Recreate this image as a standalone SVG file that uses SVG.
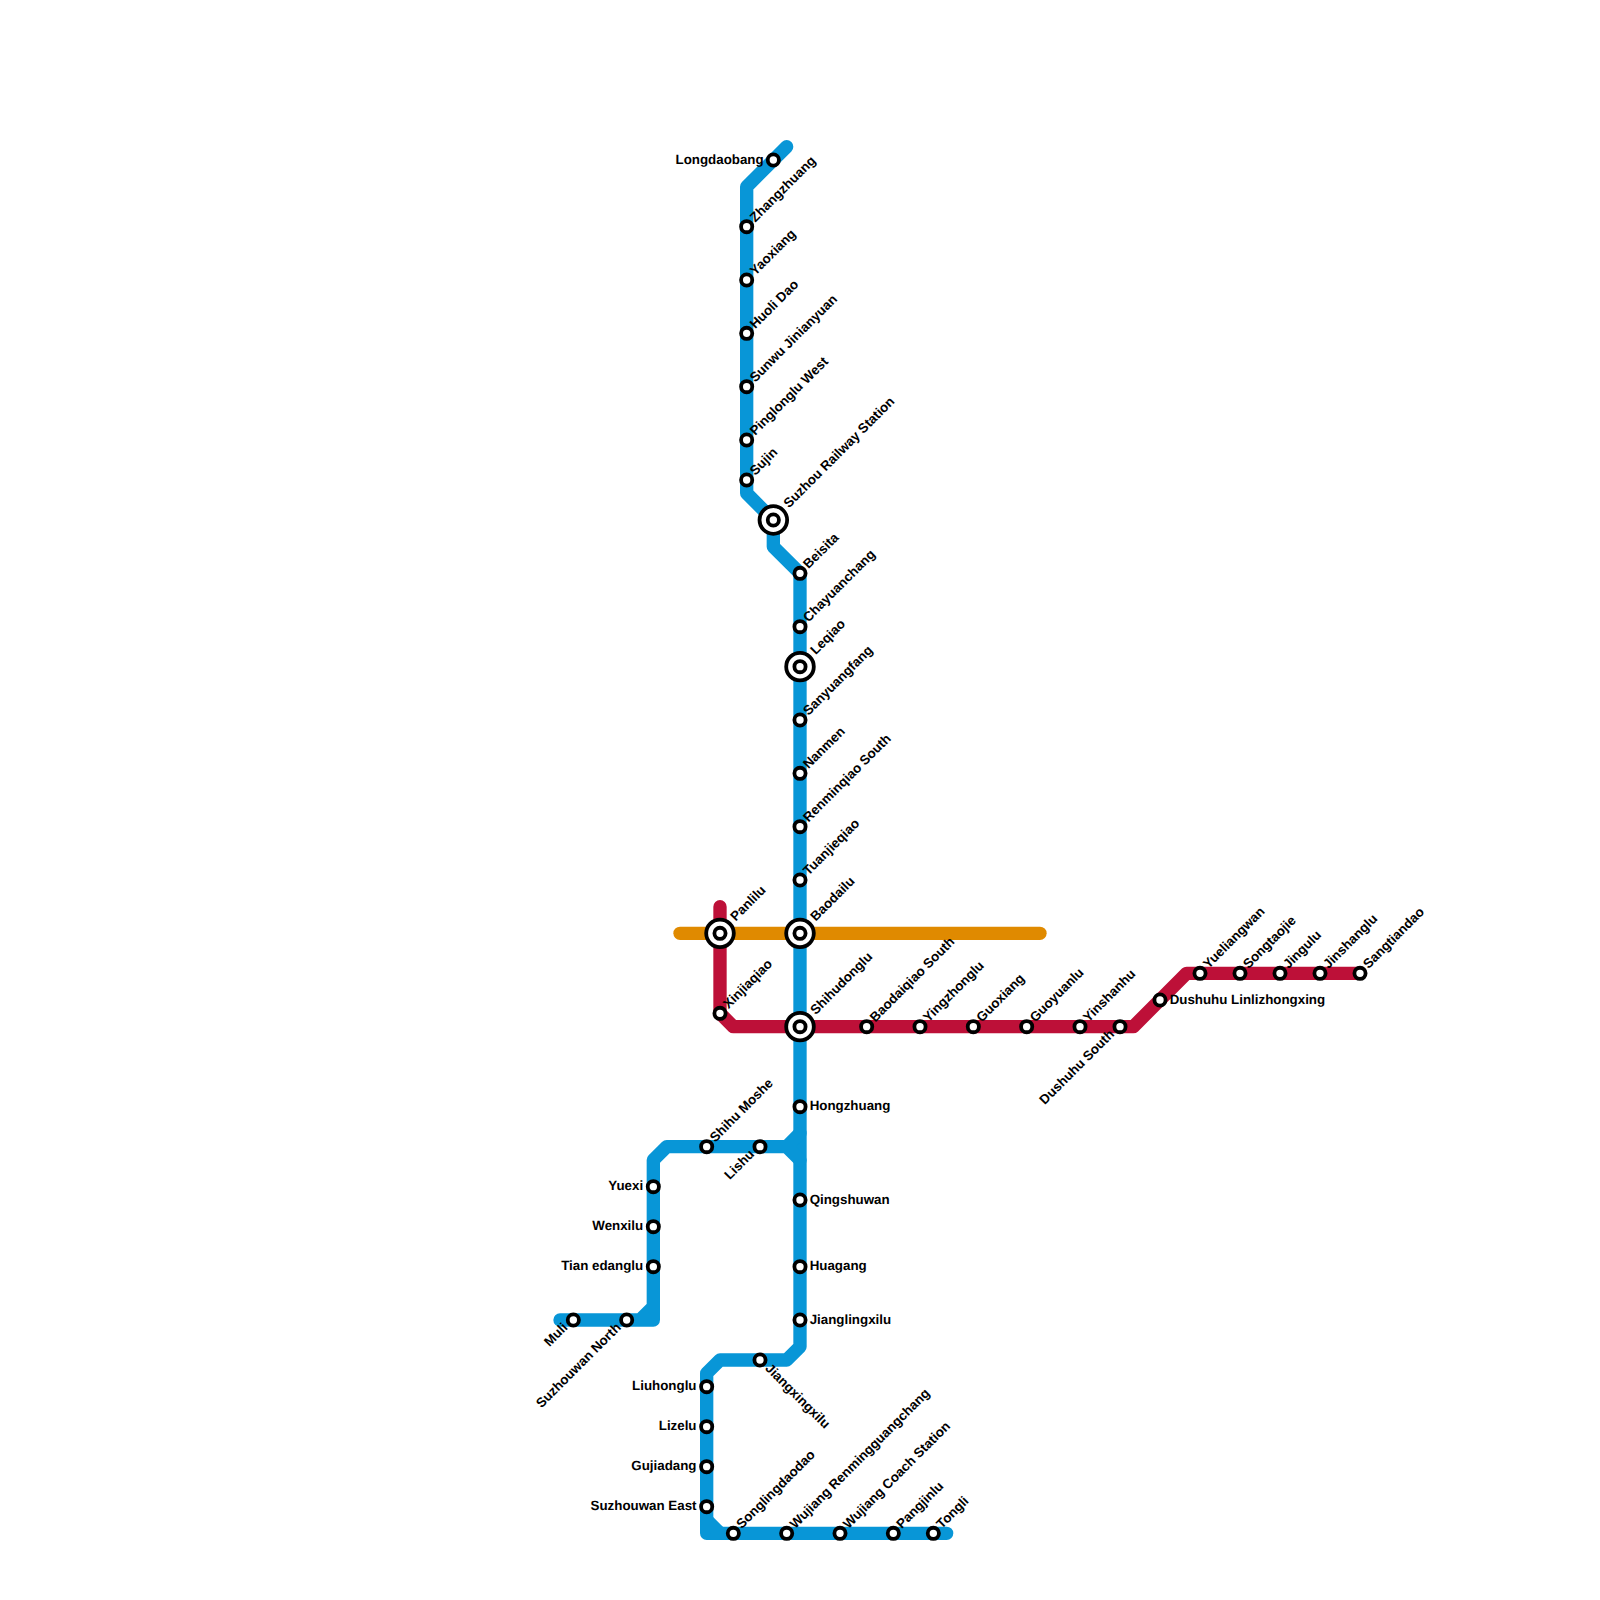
<svg xmlns="http://www.w3.org/2000/svg" width="1600" height="1600" viewBox="0 0 1600 1600">
<style>
.l{fill:none;stroke-width:13.33;stroke-linecap:round;stroke-linejoin:round}
.b{stroke:#0896d7}.r{stroke:#bd1038}.o{stroke:#e08a00}
.s{fill:#fff;stroke:#000;stroke-width:3.8}
text{font-family:"Liberation Sans",Arial,sans-serif;font-weight:700;font-size:13.33px;fill:#000;text-rendering:geometricPrecision}
.e{text-anchor:end}
</style>
<defs>
<g id="st"><circle class="s" r="5.6"/></g>
<g id="ix"><circle class="s" r="13.8"/><circle class="s" r="5.6"/></g>
</defs>
<rect width="1600" height="1600" fill="#fff"/>
<g id="connectors">
<path class="l o" d="M680 933.33H1040"/>
<path class="l r" d="M720 906.67V1013.33L733.33 1026.67H1133.33L1186.67 973.33H1360"/>
<path class="l b" d="M786.67 146.67L746.67 186.67V493.33L773.33 520V546.67L800 573.33V1346.67L786.67 1360H720L706.67 1373.33V1533.33H946.67"/>
<path class="l b" d="M706.67 1520L720 1533.33"/>
<path class="l b" d="M560 1320H653.33V1160L666.67 1146.67H786.67L800 1133.33M786.67 1146.67L800 1160M640 1320L653.33 1306.67"/>
</g>
<g id="n-longdaobang"><use href="#st" x="773.33" y="160"/><text class="e" x="763.67" y="163.5">Longdaobang</text></g>
<g id="n-zhangzhuang"><use href="#st" x="746.67" y="226.67"/><text transform="translate(755.17 222.67) rotate(-45)">Zhangzhuang</text></g>
<g id="n-yaoxiang"><use href="#st" x="746.67" y="280"/><text transform="translate(755.17 276) rotate(-45)">Yaoxiang</text></g>
<g id="n-huolidao"><use href="#st" x="746.67" y="333.33"/><text transform="translate(755.17 329.33) rotate(-45)">Huoli Dao</text></g>
<g id="n-sunwu"><use href="#st" x="746.67" y="386.67"/><text transform="translate(755.17 382.67) rotate(-45)">Sunwu Jinianyuan</text></g>
<g id="n-pinglonglu"><use href="#st" x="746.67" y="440"/><text transform="translate(755.17 436) rotate(-45)">Pinglonglu West</text></g>
<g id="n-sujin"><use href="#st" x="746.67" y="480"/><text transform="translate(755.17 476) rotate(-45)">Sujin</text></g>
<g id="n-suzhourailway"><use href="#ix" x="773.33" y="520"/><text transform="translate(789 508.5) rotate(-45)">Suzhou Railway Station</text></g>
<g id="n-beisita"><use href="#st" x="800" y="573.33"/><text transform="translate(808.5 569.33) rotate(-45)">Beisita</text></g>
<g id="n-chayuanchang"><use href="#st" x="800" y="626.67"/><text transform="translate(808.5 622.67) rotate(-45)">Chayuanchang</text></g>
<g id="n-leqiao"><use href="#ix" x="800" y="666.67"/><text transform="translate(815.67 655.17) rotate(-45)">Leqiao</text></g>
<g id="n-sanyuangfang"><use href="#st" x="800" y="720"/><text transform="translate(808.5 716) rotate(-45)">Sanyuangfang</text></g>
<g id="n-nanmen"><use href="#st" x="800" y="773.33"/><text transform="translate(808.5 769.33) rotate(-45)">Nanmen</text></g>
<g id="n-renminqiao"><use href="#st" x="800" y="826.67"/><text transform="translate(808.5 822.67) rotate(-45)">Renminqiao South</text></g>
<g id="n-tuanjieqiao"><use href="#st" x="800" y="880"/><text transform="translate(808.5 876) rotate(-45)">Tuanjieqiao</text></g>
<g id="n-baodailu"><use href="#ix" x="800" y="933.33"/><text transform="translate(815.67 921.83) rotate(-45)">Baodailu</text></g>
<g id="n-panlilu"><use href="#ix" x="720" y="933.33"/><text transform="translate(735.67 921.83) rotate(-45)">Panlilu</text></g>
<g id="n-xinjiaqiao"><use href="#st" x="720" y="1013.33"/><text transform="translate(728.5 1009.33) rotate(-45)">Xinjiaqiao</text></g>
<g id="n-shihudonglu"><use href="#ix" x="800" y="1026.67"/><text transform="translate(815.67 1015.17) rotate(-45)">Shihudonglu</text></g>
<g id="n-baodaiqiao"><use href="#st" x="866.67" y="1026.67"/><text transform="translate(875.17 1022.67) rotate(-45)">Baodaiqiao South</text></g>
<g id="n-yingzhonglu"><use href="#st" x="920" y="1026.67"/><text transform="translate(928.5 1022.67) rotate(-45)">Yingzhonglu</text></g>
<g id="n-guoxiang"><use href="#st" x="973.33" y="1026.67"/><text transform="translate(981.83 1022.67) rotate(-45)">Guoxiang</text></g>
<g id="n-guoyuanlu"><use href="#st" x="1026.67" y="1026.67"/><text transform="translate(1035.17 1022.67) rotate(-45)">Guoyuanlu</text></g>
<g id="n-yinshanhu"><use href="#st" x="1080" y="1026.67"/><text transform="translate(1088.5 1022.67) rotate(-45)">Yinshanhu</text></g>
<g id="n-dushuhusouth"><use href="#st" x="1120" y="1026.67"/><text class="e" transform="translate(1115 1035) rotate(-45)">Dushuhu South</text></g>
<g id="n-linli"><use href="#st" x="1160" y="1000"/><text x="1169.67" y="1003.5">Dushuhu Linlizhongxing</text></g>
<g id="n-yueliangwan"><use href="#st" x="1200" y="973.33"/><text transform="translate(1208.5 969.33) rotate(-45)">Yueliangwan</text></g>
<g id="n-songtaojie"><use href="#st" x="1240" y="973.33"/><text transform="translate(1248.5 969.33) rotate(-45)">Songtaojie</text></g>
<g id="n-jingulu"><use href="#st" x="1280" y="973.33"/><text transform="translate(1288.5 969.33) rotate(-45)">Jingulu</text></g>
<g id="n-jinshanglu"><use href="#st" x="1320" y="973.33"/><text transform="translate(1328.5 969.33) rotate(-45)">Jinshanglu</text></g>
<g id="n-sangtiandao"><use href="#st" x="1360" y="973.33"/><text transform="translate(1368.5 969.33) rotate(-45)">Sangtiandao</text></g>
<g id="n-hongzhuang"><use href="#st" x="800" y="1106.67"/><text x="809.67" y="1110.17">Hongzhuang</text></g>
<g id="n-qingshuwan"><use href="#st" x="800" y="1200"/><text x="809.67" y="1203.5">Qingshuwan</text></g>
<g id="n-huagang"><use href="#st" x="800" y="1266.67"/><text x="809.67" y="1270.17">Huagang</text></g>
<g id="n-jianglingxilu"><use href="#st" x="800" y="1320"/><text x="809.67" y="1323.5">Jianglingxilu</text></g>
<g id="n-shihumoshe"><use href="#st" x="706.67" y="1146.67"/><text transform="translate(715.17 1142.67) rotate(-45)">Shihu Moshe</text></g>
<g id="n-lishu"><use href="#st" x="760" y="1146.67"/><text class="e" transform="translate(755 1155) rotate(-45)">Lishu</text></g>
<g id="n-yuexi"><use href="#st" x="653.33" y="1186.67"/><text class="e" x="643.17" y="1190.17">Yuexi</text></g>
<g id="n-wenxilu"><use href="#st" x="653.33" y="1226.67"/><text class="e" x="643.17" y="1230.17">Wenxilu</text></g>
<g id="n-tianedanglu"><use href="#st" x="653.33" y="1266.67"/><text class="e" x="643.17" y="1270.17">Tian edanglu</text></g>
<g id="n-muli"><use href="#st" x="573.33" y="1320"/><text class="e" transform="translate(568.33 1328.33) rotate(-45)">Muli</text></g>
<g id="n-suzhouwannorth"><use href="#st" x="626.67" y="1320"/><text class="e" transform="translate(621.67 1328.33) rotate(-45)">Suzhouwan North</text></g>
<g id="n-jiangxingxilu"><use href="#st" x="760" y="1360"/><text transform="translate(764.5 1369) rotate(45)">Jiangxingxilu</text></g>
<g id="n-liuhonglu"><use href="#st" x="706.67" y="1386.67"/><text class="e" x="696.5" y="1390.17">Liuhonglu</text></g>
<g id="n-lizelu"><use href="#st" x="706.67" y="1426.67"/><text class="e" x="696.5" y="1430.17">Lizelu</text></g>
<g id="n-gujiadang"><use href="#st" x="706.67" y="1466.67"/><text class="e" x="696.5" y="1470.17">Gujiadang</text></g>
<g id="n-suzhouwaneast"><use href="#st" x="706.67" y="1506.67"/><text class="e" x="696.5" y="1510.17">Suzhouwan East</text></g>
<g id="n-songlingdaodao"><use href="#st" x="733.33" y="1533.33"/><text transform="translate(741.83 1529.33) rotate(-45)">Songlingdaodao</text></g>
<g id="n-wujiangrenming"><use href="#st" x="786.67" y="1533.33"/><text transform="translate(795.17 1529.33) rotate(-45)">Wujiang Renmingguangchang</text></g>
<g id="n-wujiangcoach"><use href="#st" x="840" y="1533.33"/><text transform="translate(848.5 1529.33) rotate(-45)">Wujiang Coach Station</text></g>
<g id="n-pangjinlu"><use href="#st" x="893.33" y="1533.33"/><text transform="translate(901.83 1529.33) rotate(-45)">Pangjinlu</text></g>
<g id="n-tongli"><use href="#st" x="933.33" y="1533.33"/><text transform="translate(941.83 1529.33) rotate(-45)">Tongli</text></g>
</svg>
